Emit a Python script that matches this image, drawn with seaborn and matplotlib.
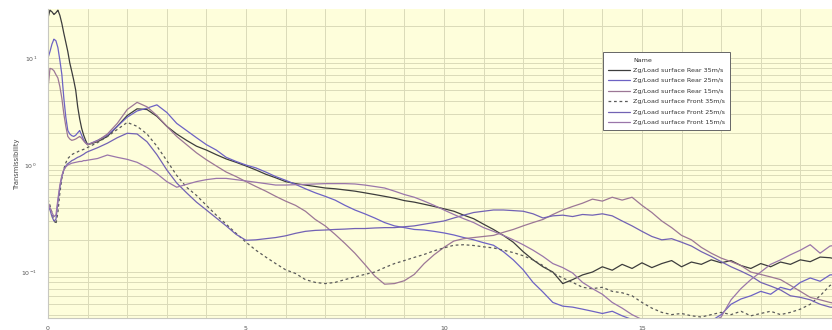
import numpy as np
import pandas as pd
import matplotlib
matplotlib.use("Agg")
import matplotlib.pyplot as plt
from matplotlib.lines import Line2D
from matplotlib.ticker import FixedLocator, LogLocator, NullFormatter
import seaborn as sns

# ---- frequency grids -------------------------------------------------------
freq_early = [0.0, 0.05, 0.1, 0.15, 0.2, 0.25, 0.3, 0.35, 0.4, 0.45,
              0.5, 0.55, 0.6, 0.65, 0.7, 0.75, 0.8, 0.85, 0.9, 0.95]
freq_main = [1.0 + 0.25 * i for i in range(77)]   # 1.0 ... 20.0
freq = freq_early + freq_main

# ---- transmissibility per measurement --------------------------------------
rear_35 = [23.7, 28, 27, 25.5, 26.5, 28, 25, 21, 17, 14,
           11.5, 9, 7.5, 6.2, 5.0, 3.5, 2.7, 2.2, 1.9, 1.7,
           1.55, 1.65, 1.85, 2.3, 2.9, 3.35, 3.3, 2.85, 2.3, 1.95,
           1.7, 1.5, 1.38, 1.25, 1.14, 1.06, 0.98, 0.9, 0.82, 0.76,
           0.7, 0.67, 0.65, 0.63, 0.61, 0.60, 0.585, 0.57, 0.55, 0.53,
           0.51, 0.49, 0.465, 0.45, 0.43, 0.41, 0.39, 0.37, 0.34, 0.315,
           0.28, 0.25, 0.22, 0.19, 0.155, 0.13, 0.112, 0.1, 0.078, 0.085,
           0.094, 0.1, 0.112, 0.104, 0.118, 0.108, 0.122, 0.11, 0.12, 0.128,
           0.112, 0.124, 0.118, 0.13, 0.122, 0.128, 0.115, 0.108, 0.12, 0.112,
           0.124, 0.118, 0.13, 0.125, 0.138, 0.136, 0.13]
rear_25 = [10, 11.5, 13.5, 15, 14.5, 12.5, 9.5, 7.0, 4.2, 2.8,
           2.1, 1.95, 1.88, 1.85, 1.9, 2.0, 2.1, 1.9, 1.72, 1.62,
           1.55, 1.7, 1.9, 2.3, 2.8, 3.2, 3.4, 3.65, 3.1, 2.45,
           2.1, 1.8, 1.55, 1.38, 1.18, 1.08, 1.0, 0.94, 0.86, 0.78,
           0.72, 0.66, 0.6, 0.55, 0.51, 0.47, 0.42, 0.38, 0.35, 0.32,
           0.29, 0.27, 0.26, 0.25, 0.247, 0.24, 0.232, 0.222, 0.21, 0.2,
           0.188, 0.178, 0.155, 0.13, 0.105, 0.08, 0.065, 0.052, 0.048, 0.047,
           0.045, 0.043, 0.041, 0.043, 0.039, 0.036, 0.034, 0.033, 0.032, 0.031,
           0.03, 0.031, 0.032, 0.035, 0.04, 0.05, 0.056, 0.06, 0.066, 0.062,
           0.072, 0.068, 0.08, 0.088, 0.082, 0.094, 0.095]
rear_15 = [5.2, 8.0, 7.9, 7.6, 7.0, 6.5, 5.4, 4.2, 3.0, 2.3,
           1.85, 1.75, 1.7, 1.72, 1.75, 1.8, 1.85, 1.78, 1.68, 1.6,
           1.55, 1.68, 1.95, 2.45, 3.3, 3.85, 3.5, 2.9, 2.3, 1.85,
           1.55, 1.3, 1.12, 0.98, 0.86, 0.78, 0.7, 0.63, 0.57, 0.51,
           0.46, 0.42, 0.37, 0.31, 0.27, 0.225, 0.185, 0.15, 0.118, 0.092,
           0.077, 0.078, 0.083, 0.095, 0.12, 0.145, 0.17, 0.195, 0.205, 0.21,
           0.215, 0.22, 0.235, 0.25, 0.27, 0.29, 0.31, 0.345, 0.38, 0.41,
           0.44, 0.48, 0.46, 0.5, 0.47, 0.5, 0.42, 0.36, 0.3, 0.26,
           0.22, 0.2, 0.17, 0.15, 0.135, 0.125, 0.115, 0.1, 0.095, 0.09,
           0.085, 0.075, 0.066, 0.058, 0.055, 0.052, 0.05]
front_35 = [0.48, 0.42, 0.36, 0.31, 0.28, 0.36, 0.55, 0.75, 0.92, 1.05,
            1.15, 1.2, 1.25, 1.28, 1.3, 1.33, 1.36, 1.38, 1.4, 1.43,
            1.46, 1.62, 1.85, 2.15, 2.5, 2.3, 1.95, 1.5, 1.1, 0.8,
            0.62, 0.52, 0.42, 0.34, 0.28, 0.23, 0.19, 0.16, 0.138, 0.12,
            0.105, 0.097, 0.085, 0.08, 0.078, 0.08, 0.085, 0.09, 0.095, 0.1,
            0.11, 0.12, 0.128, 0.137, 0.146, 0.158, 0.168, 0.178, 0.18, 0.177,
            0.172, 0.168, 0.16, 0.152, 0.142, 0.13, 0.115, 0.098, 0.088, 0.08,
            0.072, 0.07, 0.072, 0.066, 0.064, 0.06, 0.052, 0.046, 0.042, 0.04,
            0.041, 0.039, 0.038, 0.04, 0.042, 0.04, 0.043, 0.039, 0.041, 0.043,
            0.04, 0.042, 0.045, 0.05, 0.06, 0.075, 0.08]
front_25 = [0.42, 0.38, 0.33, 0.3, 0.31, 0.45, 0.62, 0.78, 0.9, 0.98,
            1.03, 1.06, 1.1, 1.12, 1.15, 1.18, 1.2, 1.23, 1.26, 1.3,
            1.33, 1.45, 1.6, 1.8, 1.98, 1.95, 1.65, 1.25, 0.9, 0.68,
            0.55, 0.45, 0.38, 0.32, 0.27, 0.225, 0.198, 0.2, 0.205, 0.21,
            0.218, 0.23, 0.24, 0.245, 0.247, 0.25, 0.252, 0.255, 0.255, 0.258,
            0.26, 0.26, 0.265, 0.27, 0.28, 0.29, 0.3, 0.32, 0.34, 0.36,
            0.37, 0.38, 0.38, 0.375, 0.37, 0.35, 0.32, 0.335, 0.34, 0.33,
            0.345, 0.34, 0.35, 0.335, 0.3, 0.27, 0.24, 0.215, 0.2, 0.205,
            0.19, 0.175, 0.155, 0.14, 0.125, 0.112, 0.102, 0.092, 0.08, 0.074,
            0.068, 0.06, 0.058, 0.055, 0.05, 0.047, 0.046]
front_15 = [0.45, 0.4, 0.36, 0.33, 0.34, 0.48, 0.65, 0.8, 0.9, 0.96,
            1.0, 1.02, 1.04, 1.05, 1.06, 1.07, 1.08, 1.08, 1.1, 1.1,
            1.11, 1.15, 1.24, 1.18, 1.13, 1.06, 0.95, 0.83, 0.7, 0.62,
            0.66, 0.7, 0.73, 0.75, 0.75, 0.73, 0.71, 0.69, 0.67, 0.65,
            0.65, 0.655, 0.66, 0.665, 0.67, 0.67, 0.67, 0.665, 0.65, 0.63,
            0.61, 0.57, 0.53, 0.5, 0.46, 0.42, 0.38, 0.345, 0.315, 0.29,
            0.26, 0.24, 0.22, 0.2, 0.18, 0.16, 0.14, 0.12, 0.11, 0.098,
            0.08, 0.07, 0.062, 0.052, 0.046, 0.04, 0.036, 0.034, 0.032, 0.031,
            0.03, 0.03, 0.031, 0.034, 0.038, 0.055, 0.07, 0.085, 0.1, 0.118,
            0.13, 0.145, 0.16, 0.18, 0.15, 0.175, 0.18]

names = ["Zg/Load surface Rear 35m/s", "Zg/Load surface Rear 25m/s",
         "Zg/Load surface Rear 15m/s", "Zg/Load surface Front 35m/s",
         "Zg/Load surface Front 25m/s", "Zg/Load surface Front 15m/s"]
series = [rear_35, rear_25, rear_15, front_35, front_25, front_15]
colors = ["#3d3d3d", "#6d62c4", "#9c7796", "#5a5a5a", "#7262b4", "#9a76aa"]
dashes = [(1, 0), (1, 0), (1, 0), (2.2, 2.2), (1, 0), (1, 0)]

df = pd.concat([pd.DataFrame({"Frequency": freq, "Transmissibility": s, "Name": n})
                for n, s in zip(names, series)], ignore_index=True)

sns.set_style("white")
plt.rcParams["font.family"] = ["DejaVu Sans"]

fig = plt.figure(figsize=(8.32, 3.30), dpi=100)
ax = fig.add_axes([48 / 832, 12 / 330, 1 - 48 / 832, 309 / 330])
ax.set_facecolor("#fefedb")

sns.lineplot(data=df, x="Frequency", y="Transmissibility", hue="Name", style="Name",
             palette=dict(zip(names, colors)), dashes=dict(zip(names, dashes)),
             estimator=None, sort=False, linewidth=0.9, legend=False, ax=ax)

ax.set_yscale("log")
ax.set_xlim(0, 19.8)
ax.set_ylim(0.0372, 28.7)

# grid: vertical every 1 Hz, horizontal at decades and log minors
ax.xaxis.set_major_locator(FixedLocator([0, 5, 10, 15]))
ax.xaxis.set_minor_locator(FixedLocator(list(range(0, 20))))
ax.yaxis.set_major_locator(LogLocator(base=10, numticks=10))
ax.yaxis.set_minor_locator(LogLocator(base=10, subs=np.arange(2, 10), numticks=20))
ax.yaxis.set_minor_formatter(NullFormatter())
ax.grid(True, which="both", color="#dadab8", linewidth=0.7)
ax.set_axisbelow(True)

ax.tick_params(axis="both", which="both", length=0, labelsize=4.5, colors="#555555")
ax.tick_params(axis="x", pad=6)
ax.tick_params(axis="y", pad=8)

for side in ["top", "right"]:
    ax.spines[side].set_visible(False)
for side in ["left", "bottom"]:
    ax.spines[side].set_color("#c8c8c0")
    ax.spines[side].set_linewidth(0.8)

ax.set_xlabel("")
ax.set_ylabel("Transmissibility", fontsize=4.8, color="#444444")
ax.yaxis.set_label_coords(-28 / 784, 0.5)

# legend with a "Name" header row
handles = [Line2D([], [], color="none")]
labels = ["Name"]
for n, c, d in zip(names, colors, dashes):
    ls = (0, d) if d != (1, 0) else "-"
    handles.append(Line2D([], [], color=c, linewidth=0.9, linestyle=ls))
    labels.append(n)
leg = ax.legend(handles, labels, loc="upper left",
                bbox_to_anchor=(603 / 832, 1 - 52 / 330), bbox_transform=fig.transFigure,
                fontsize=4.6, frameon=True, fancybox=False, framealpha=1,
                edgecolor="#666666", handlelength=3.4, handletextpad=0.5,
                labelspacing=0.78, borderpad=0.8, borderaxespad=0)
leg.get_frame().set_linewidth(0.7)
for t in leg.get_texts():
    t.set_color("#333333")

fig.savefig("out.png", dpi=100, facecolor="white")
